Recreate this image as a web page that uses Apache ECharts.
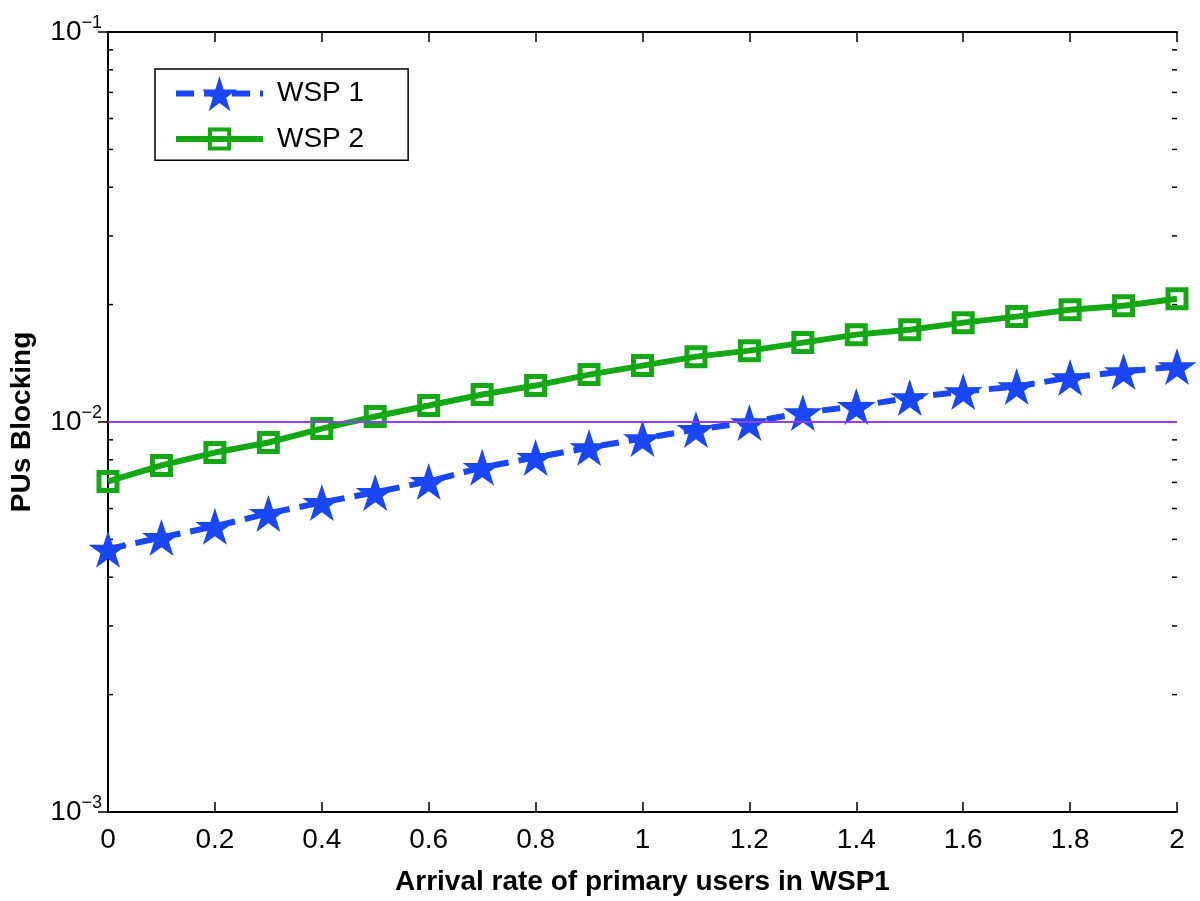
<!DOCTYPE html>
<html>
<head>
<meta charset="utf-8">
<script src="https://cdn.jsdelivr.net/npm/echarts@6/dist/echarts.min.js"></script>
<style>
html,body{margin:0;padding:0;background:#fff;}
#chart{width:1200px;height:901px;}
</style>
</head>
<body>
<div id="chart"></div>
<script>
// ---- data ----
const xValues = [0, 0.1, 0.2, 0.3, 0.4, 0.5, 0.6, 0.7, 0.8, 0.9, 1.0, 1.1, 1.2, 1.3, 1.4, 1.5, 1.6, 1.7, 1.8, 1.9, 2.0];
const wsp1 = [0.00472, 0.00506, 0.00540, 0.00583, 0.00622, 0.00660, 0.00704, 0.00765, 0.00811, 0.00860, 0.00907,
              0.00957, 0.00997, 0.01057, 0.01096, 0.01155, 0.01197, 0.01233, 0.01300, 0.01347, 0.01387];
const wsp2 = [0.00704, 0.00774, 0.00835, 0.00886, 0.00962, 0.01033, 0.01102, 0.01176, 0.01240, 0.01323, 0.01395,
              0.01471, 0.01524, 0.01598, 0.01675, 0.01725, 0.01798, 0.01863, 0.01941, 0.01987, 0.02071];
const seriesNames = ['WSP 1', 'WSP 2'];
const thresholdValue = 0.01;
const xTickStep = 0.2;
const yMin = 0.001, yMax = 0.1;
const minorTickValues = [0.002,0.003,0.004,0.005,0.006,0.007,0.008,0.009,0.02,0.03,0.04,0.05,0.06,0.07,0.08,0.09];
const xTitle = 'Arrival rate of primary users in WSP1';
const yTitle = 'PUs Blocking';

// ---- styles ----
const FONT = "'Liberation Sans', Arial, Helvetica, sans-serif";
const BLUE = '#1947f5', GREEN = '#14a814', PURPLE = '#8e3ff2';
const STAR = 'path://M50 0 L61.23 34.55 L97.55 34.55 L68.17 55.9 L79.39 90.45 L50 69.1 L20.61 90.45 L31.83 55.9 L2.45 34.55 L38.77 34.55 Z';

const pair = (xs, ys) => xs.map((x, i) => [x, ys[i]]);

const yLabelFormatter = v => {
  const e = Math.round(Math.log10(v));
  return '{b|10}{s|' + (e < 0 ? '\u2212' + (-e) : e) + '}';
};

const axisLine = {show: true, lineStyle: {color: '#000', width: 2}};
const legendText = {fontSize: 28, color: '#000', fontFamily: FONT, padding: [0, 0, 0, 9]};

const chart = echarts.init(document.getElementById('chart'), null, {renderer: 'canvas'});
chart.setOption({
  animation: false,
  backgroundColor: '#fff',
  textStyle: {fontFamily: FONT},
  grid: {left: 106, right: 23, top: 32, bottom: 88, containLabel: false},
  legend: [{
    orient: 'vertical',
    left: 155, top: 69,
    data: [seriesNames[0]],
    itemWidth: 87, itemHeight: 44, itemGap: 0,
    padding: [7, 44, 49, 18],
    borderColor: '#000', borderWidth: 1.5, backgroundColor: '#fff',
    lineStyle: {width: 'inherit', type: 'inherit'},
    itemStyle: {borderWidth: 'inherit'},
    textStyle: legendText,
    selectedMode: false, z: 10
  }, {
    orient: 'vertical',
    left: 173, top: 125,
    data: [seriesNames[1]],
    itemWidth: 87, itemHeight: 24, itemGap: 0,
    padding: 0,
    lineStyle: {width: 'inherit'},
    itemStyle: {borderWidth: 4},
    textStyle: legendText,
    selectedMode: false, z: 11
  }],
  xAxis: [{
    type: 'value', min: 0, max: 2, interval: xTickStep, position: 'bottom',
    name: xTitle, nameLocation: 'middle', nameGap: 56,
    nameTextStyle: {fontSize: 28, fontWeight: 'bold', color: '#000', fontFamily: FONT},
    axisLine: axisLine,
    axisTick: {show: true, inside: true, length: 10, lineStyle: {color: '#000', width: 1.5}},
    axisLabel: {fontSize: 28, color: '#000', margin: 14, fontFamily: FONT, showMinLabel: true, showMaxLabel: true},
    splitLine: {show: false}
  }, {
    type: 'value', min: 0, max: 2, interval: xTickStep, position: 'top',
    axisLine: axisLine,
    axisTick: {show: true, inside: true, length: 10, lineStyle: {color: '#000', width: 1.5}},
    axisLabel: {show: false},
    splitLine: {show: false}
  }],
  yAxis: [{
    type: 'log', logBase: 10, min: yMin, max: yMax, position: 'left',
    name: yTitle, nameLocation: 'middle', nameGap: 72,
    nameTextStyle: {fontSize: 28, fontWeight: 'bold', color: '#000', fontFamily: FONT},
    axisLine: axisLine,
    axisTick: {show: true, inside: true, length: 10, lineStyle: {color: '#000', width: 1.5}},
    axisLabel: {
      color: '#000', margin: 6, formatter: yLabelFormatter, showMinLabel: true, showMaxLabel: true,
      rich: {
        b: {fontSize: 28, lineHeight: 28, color: '#000', fontFamily: FONT},
        s: {fontSize: 18, lineHeight: 18, color: '#000', fontFamily: FONT, padding: [0, 0, 18, 0]}
      }
    },
    splitLine: {show: false}
  }, {
    type: 'log', logBase: 10, min: yMin, max: yMax, position: 'right',
    axisLine: axisLine,
    axisTick: {show: true, inside: true, length: 10, lineStyle: {color: '#000', width: 1.5}},
    axisLabel: {show: false},
    splitLine: {show: false}
  }],
  series: [{
    name: seriesNames[0], type: 'line', data: pair(xValues, wsp1),
    xAxisIndex: 0, yAxisIndex: 0,
    symbol: STAR, symbolSize: [39, 37],
    lineStyle: {color: BLUE, width: 6, type: [18, 10]},
    itemStyle: {color: BLUE, borderWidth: 0},
    z: 3,
    markLine: {
      silent: true, symbol: 'none', label: {show: false},
      lineStyle: {color: PURPLE, width: 2, type: 'solid'},
      data: [{yAxis: thresholdValue}]
    }
  }, {
    name: seriesNames[1], type: 'line', data: pair(xValues, wsp2),
    xAxisIndex: 0, yAxisIndex: 0,
    symbol: 'rect', symbolSize: 18,
    lineStyle: {color: GREEN, width: 6},
    itemStyle: {color: 'rgba(255,255,255,0)', borderColor: GREEN, borderWidth: 5},
    z: 2
  }, {
    name: 'minorTicks', type: 'custom', xAxisIndex: 0, yAxisIndex: 0, silent: true,
    data: minorTickValues.map(v => [0, v]),
    renderItem: function (params, api) {
      const y = api.coord([0, api.value(1)])[1];
      const cs = params.coordSys;
      const st = {stroke: '#000', lineWidth: 1.5};
      return {type: 'group', children: [
        {type: 'line', shape: {x1: cs.x, y1: y, x2: cs.x + 5, y2: y}, style: st},
        {type: 'line', shape: {x1: cs.x + cs.width - 5, y1: y, x2: cs.x + cs.width, y2: y}, style: st}
      ]};
    },
    z: 1
  }]
});
</script>
</body>
</html>
